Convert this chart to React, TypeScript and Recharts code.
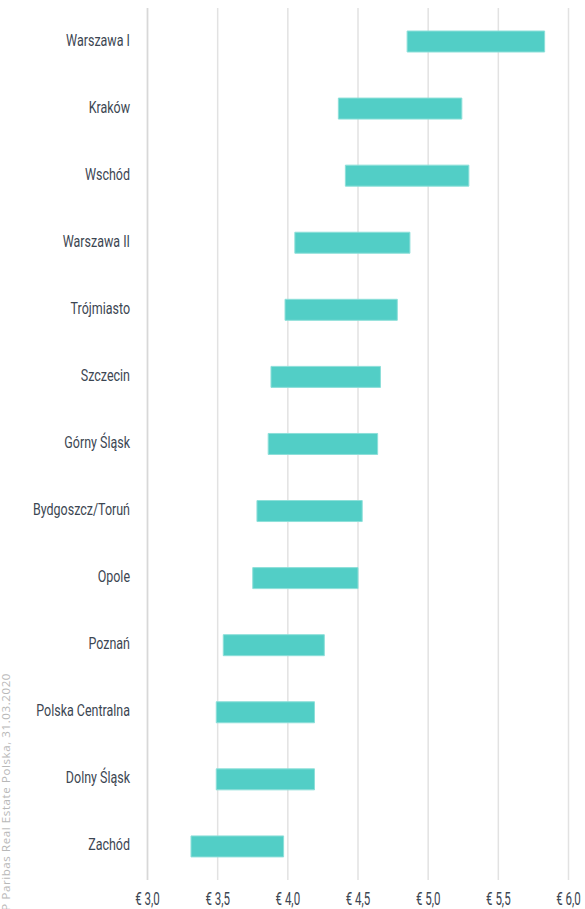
import React from 'react';
import { BarChart, Bar, XAxis, YAxis, CartesianGrid } from 'recharts';

if (typeof document !== 'undefined') {
  document.body.style.margin = '0';
}

const regions = [
  'Warszawa I',
  'Kraków',
  'Wschód',
  'Warszawa II',
  'Trójmiasto',
  'Szczecin',
  'Górny Śląsk',
  'Bydgoszcz/Toruń',
  'Opole',
  'Poznań',
  'Polska Centralna',
  'Dolny Śląsk',
  'Zachód',
];
const rentMin = [4.85, 4.36, 4.41, 4.05, 3.98, 3.88, 3.86, 3.78, 3.75, 3.54, 3.49, 3.49, 3.31];
const rentMax = [5.83, 5.24, 5.29, 4.87, 4.78, 4.66, 4.64, 4.53, 4.5, 4.26, 4.19, 4.19, 3.97];
const xTicks = [3.0, 3.5, 4.0, 4.5, 5.0, 5.5, 6.0];
const sourceText = 'Źródło: BNP Paribas Real Estate Polska, 31.03.2020';

const data = regions.map((name, i) => ({ name, range: [rentMin[i], rentMax[i]] }));

const TEXT_COLOR = '#3c4652';

const CategoryTick = (props: any) => {
  const { x, y, payload } = props;
  return (
    <text
      transform={`translate(${x},${y + 4}) scale(0.78,1)`}
      textAnchor="end"
      fontFamily="Roboto, 'Liberation Sans', sans-serif"
      fontSize={16}
      fill={TEXT_COLOR}
    >
      {payload.value}
    </text>
  );
};

const ValueTick = (props: any) => {
  const { x, y, payload } = props;
  const label = '€ ' + Number(payload.value).toFixed(1).replace('.', ',');
  return (
    <text
      transform={`translate(${x},${y + 25}) scale(0.64,1)`}
      textAnchor="middle"
      fontFamily="Roboto, 'Liberation Sans', sans-serif"
      fontSize={18}
      fill={TEXT_COLOR}
    >
      {label}
    </text>
  );
};

export default function App() {
  return (
    <div style={{ position: 'relative', width: 585, height: 909, overflow: 'hidden' }}>
      <BarChart
        width={585}
        height={909}
        data={data}
        layout="vertical"
        margin={{ top: 8, right: 16.5, bottom: 0, left: 0 }}
      >
        <CartesianGrid horizontal={false} stroke="#e2e2e2" strokeWidth={1.5} />
        <XAxis
          type="number"
          domain={[3, 6]}
          ticks={xTicks}
          height={29}
          axisLine={false}
          tickLine={false}
          tickSize={0}
          tickMargin={0}
          tick={<ValueTick />}
          interval={0}
        />
        <YAxis
          type="category"
          dataKey="name"
          width={147.5}
          axisLine={{ stroke: '#d8d8d8', strokeWidth: 1.5 }}
          tickLine={false}
          tickSize={0}
          tickMargin={17.5}
          tick={<CategoryTick />}
          interval={0}
        />
        <Bar
          dataKey="range"
          barSize={21}
          fill="#52cec6"
          stroke="#8ddfd9"
          strokeWidth={1}
          isAnimationActive={false}
        />
      </BarChart>
      <svg
        width={20}
        height={909}
        style={{ position: 'absolute', left: 0, top: 0, pointerEvents: 'none' }}
      >
        <text
          transform="translate(9.5,673) rotate(-90)"
          textAnchor="end"
          fontFamily="'Open Sans', sans-serif"
          fontSize={11.5}
          letterSpacing={0.6}
          fill="#b8b8b8"
        >
          {sourceText}
        </text>
      </svg>
    </div>
  );
}
